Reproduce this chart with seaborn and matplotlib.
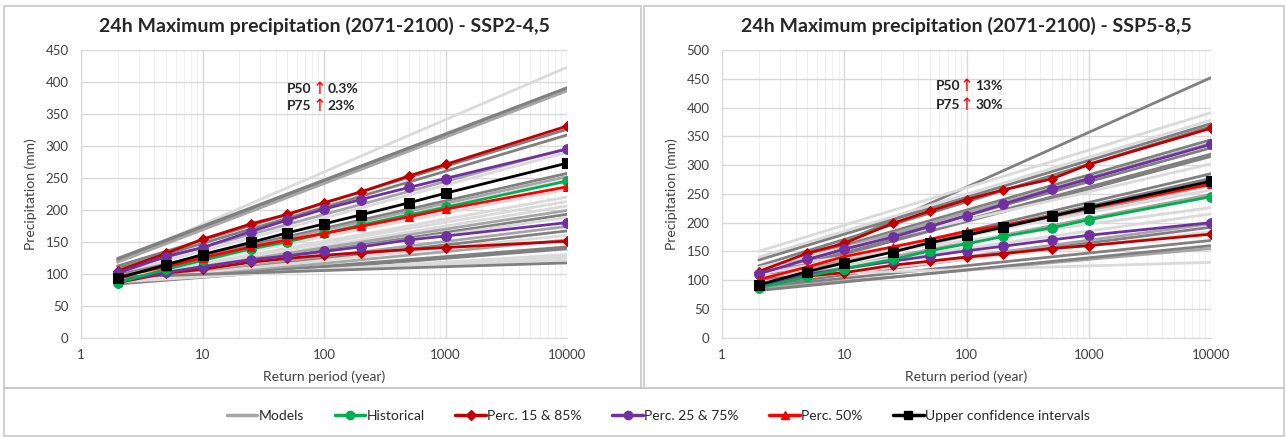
import pandas as pd
import matplotlib
matplotlib.use('Agg')
import matplotlib.pyplot as plt
from matplotlib.patches import Rectangle
from matplotlib.lines import Line2D
import seaborn as sns

#---------------------------------------------------------
T=[2, 5, 10, 25, 50, 100, 200, 500, 1000, 10000]
T_fit=[2, 10000]

# SSP2-4,5
hist_245=[86, 107, 121, 139, 150, 163, 176, 192, 204, 245]
p15_245=[86, 101, 107, 118, 124, 129, 133, 138, 141, 151]
p85_245=[104, 132, 154, 178, 193, 211, 228, 253, 271, 331]
p25_245=[88, 102, 111, 122, 128, 135, 142, 153, 159, 180]
p75_245=[101, 127, 141, 166, 184, 201, 216, 235, 249, 295]
p50_245=[95, 111, 125, 142, 153, 163, 174, 189, 201, 236]
uci_245=[93, 114, 130, 149, 164, 178, 192, 211, 226, 273]
# model fits: value at T=2, value at T=10000, grey shade
mod_245_start=[120, 124, 122, 118, 112, 108, 105, 100, 98, 96, 94, 95, 92, 93, 90, 91, 88, 89, 87, 86, 88, 85, 86, 84, 87, 90, 92, 95]
mod_245_end=[423, 391, 389, 386, 326, 317, 296, 290, 257, 252, 247, 232, 220, 213, 206, 199, 193, 188, 174, 167, 160, 153, 142, 139, 130, 126, 122, 117]
mod_245_shade=['l', 'd', 'd', 'm', 'd', 'd', 'm', 'l', 'd', 'm', 'l', 'l', 'l', 'l', 'l', 'm', 'd', 'l', 'm', 'd', 'l', 'm', 'd', 'd', 'l', 'l', 'l', 'd']

# SSP5-8,5
hist_585=[86, 107, 120, 136, 151, 163, 176, 191, 205, 245]
p15_585=[88, 107, 113, 126, 133, 140, 146, 155, 160, 180]
p85_585=[115, 147, 164, 199, 220, 240, 257, 276, 301, 364]
p25_585=[90, 110, 120, 133, 142, 151, 159, 170, 178, 200]
p75_585=[111, 136, 154, 175, 193, 212, 232, 258, 276, 336]
p50_585=[101, 123, 141, 158, 171, 185, 195, 211, 225, 267]
uci_585=[92, 115, 130, 149, 165, 178, 192, 211, 226, 272]
mod_585_start=[100, 150, 140, 135, 125, 118, 115, 112, 108, 106, 122, 100, 98, 102, 110, 95, 120, 105, 92, 90, 96, 88, 85, 108, 82]
mod_585_end=[452, 391, 378, 372, 367, 344, 338, 330, 319, 315, 302, 285, 277, 265, 257, 249, 226, 215, 198, 192, 184, 169, 155, 131, 160]
mod_585_shade=['d', 'l', 'l', 'd', 'd', 'd', 'm', 'd', 'd', 'd', 'l', 'd', 'd', 'm', 'l', 'm', 'l', 'l', 'm', 'd', 'l', 'd', 'm', 'l', 'd']

shade_col={'d':'#808080', 'm':'#a6a6a6', 'l':'#dadada'}
c_hist='#00b050'
c_p15='#c00000'
c_p25='#7030a0'
c_p50='#ff0000'
c_uci='#000000'

#--------------------------------------------------------
sns.set_style('white')
plt.rcParams['font.family']=['Lato', 'DejaVu Sans']

W, H=1286, 437
fig=plt.figure(figsize=(W/100, H/100), dpi=100)

def frac(x0, y0, x1, y1):
	return [x0/W, 1-y1/H, (x1-x0)/W, (y1-y0)/H]

def plt_panel(ax, title, ymax, mods, series, note):
	starts, ends, shades=mods
	rows=[]
	for i, (s, e) in enumerate(zip(starts, ends)):
		rows.append({'model':f'm{i}', 'T':T_fit[0], 'val':s})
		rows.append({'model':f'm{i}', 'T':T_fit[1], 'val':e})
	dfm=pd.DataFrame(rows)
	pal={f'm{i}':shade_col[c] for i, c in enumerate(shades)}
	sns.lineplot(data=dfm, x='T', y='val', hue='model', palette=pal, legend=False, lw=2, estimator=None, ax=ax, zorder=2)
	for vals, col, mk, ms in series:
		sns.lineplot(x=T, y=vals, color=col, marker=mk, markersize=ms, markeredgecolor=col, lw=2, ax=ax, zorder=4)
	ax.set_xscale('log')
	ax.set_xlim(1, 10000)
	ax.set_ylim(0, ymax)
	ax.set_xticks([1, 10, 100, 1000, 10000])
	ax.set_xticklabels(['1', '10', '100', '1000', '10000'])
	ax.set_yticks(range(0, ymax+1, 50))
	ax.tick_params(axis='both', which='both', length=0, labelsize=9.5, colors='#404040')
	ax.tick_params(axis='y', pad=9)
	ax.tick_params(axis='x', pad=8)
	ax.grid(True, which='major', color='#d9d9d9', lw=1, zorder=0)
	ax.grid(True, which='minor', axis='x', color='#efefef', lw=0.8, zorder=0)
	ax.set_axisbelow(True)
	for s in ['top', 'right']:
		ax.spines[s].set_visible(False)
	for s in ['left', 'bottom']:
		ax.spines[s].set_color('#d9d9d9')
	ax.set_title(title, fontsize=14, weight='bold', pad=13)
	ax.set_xlabel('Return period (year)', fontsize=10, color='#404040', labelpad=7)
	ax.set_ylabel('Precipitation (mm)', fontsize=10, color='#404040', labelpad=6)
	(x0, x1, x2), ys, labels=note
	for y, (lab, pct) in zip(ys, labels):
		ax.text(x0, y, lab, transform=ax.transAxes, fontsize=10, weight='bold', va='center', ha='left')
		ax.text(x1, y, '\u2191', transform=ax.transAxes, fontsize=12, color='#ff0000', va='center', ha='center', family=['DejaVu Sans'])
		ax.text(x2, y, pct, transform=ax.transAxes, fontsize=10, weight='bold', va='center', ha='left')

ax1=fig.add_axes(frac(81, 50, 567, 337.7))
ax2=fig.add_axes(frac(722, 50, 1211, 337.7))

s245=[(p15_245, c_p15, 'D', 5), (p85_245, c_p15, 'D', 5), (p25_245, c_p25, 'o', 7), (p75_245, c_p25, 'o', 7),
	(hist_245, c_hist, 'o', 7), (p50_245, c_p50, '^', 6), (uci_245, c_uci, 's', 7)]
s585=[(p15_585, c_p15, 'D', 5), (p85_585, c_p15, 'D', 5), (p25_585, c_p25, 'o', 7), (p75_585, c_p25, 'o', 7),
	(hist_585, c_hist, 'o', 7), (p50_585, c_p50, '^', 6), (uci_585, c_uci, 's', 7)]

plt_panel(ax1, '24h Maximum precipitation (2071-2100) - SSP2-4,5', 450,
	(mod_245_start, mod_245_end, mod_245_shade), s245,
	((0.424, 0.490, 0.507), (0.864, 0.805), (('P50', '0.3%'), ('P75', '23%'))))
plt_panel(ax2, '24h Maximum precipitation (2071-2100) - SSP5-8,5', 500,
	(mod_585_start, mod_585_end, mod_585_shade), s585,
	((0.438, 0.500, 0.518), (0.875, 0.809), (('P50', '13%'), ('P75', '30%'))))

#frames
for (x0, y0, x1, y1) in [(4, 6, 641, 388), (644, 6, 1284, 388), (4, 388, 1284, 436)]:
	fig.patches.append(Rectangle((x0/W, 1-y1/H), (x1-x0)/W, (y1-y0)/H, transform=fig.transFigure,
		fill=False, edgecolor='#c8c8c8', lw=1.2))

#legend
handles=[Line2D([], [], color='#a6a6a6', lw=2.5),
	Line2D([], [], color=c_hist, lw=2.5, marker='o', ms=6),
	Line2D([], [], color=c_p15, lw=2.5, marker='D', ms=5),
	Line2D([], [], color=c_p25, lw=2.5, marker='o', ms=6),
	Line2D([], [], color=c_p50, lw=2.5, marker='^', ms=6),
	Line2D([], [], color=c_uci, lw=2.5, marker='s', ms=6)]
labels=['Models', 'Historical', 'Perc. 15 & 85%', 'Perc. 25 & 75%', 'Perc. 50%', 'Upper confidence intervals']
fig.legend(handles, labels, loc='center', bbox_to_anchor=(0.512, 0.048), ncol=6, frameon=False,
	fontsize=10, handlelength=2.2, handletextpad=0.1, columnspacing=2.2)

plt.savefig('out.png', dpi=100)
plt.close()
